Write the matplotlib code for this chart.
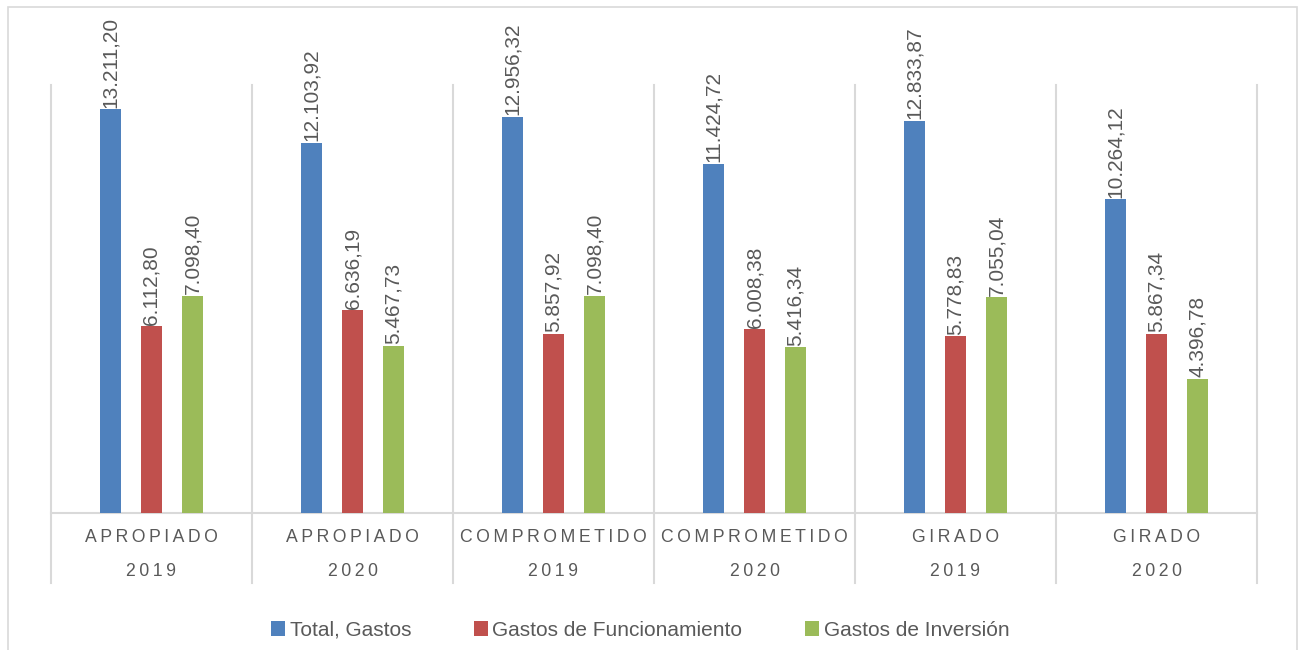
import matplotlib.pyplot as plt
import numpy as np
from matplotlib.patches import Rectangle

categorias = ['APROPIADO', 'APROPIADO', 'COMPROMETIDO', 'COMPROMETIDO', 'GIRADO', 'GIRADO']
anios = ['2019', '2020', '2019', '2020', '2019', '2020']
total_gastos = [13211.20, 12103.92, 12956.32, 11424.72, 12833.87, 10264.12]
gastos_funcionamiento = [6112.80, 6636.19, 5857.92, 6008.38, 5778.83, 5867.34]
gastos_inversion = [7098.40, 5467.73, 7098.40, 5416.34, 7055.04, 4396.78]
series_nombres = ['Total, Gastos', 'Gastos de Funcionamiento', 'Gastos de Inversión']
colores = ['#4F81BD', '#C0504D', '#9BBB59']

gris = '#595959'
linea = '#D9D9D9'

def fmt(v):
    s = f'{v:,.2f}'
    return s.replace(',', 'X').replace('.', ',').replace('X', '.')

def espaciado(t):
    return '\u2009'.join(t)

fig = plt.figure(figsize=(13, 6.5), dpi=100)
fig.patches.append(Rectangle((8/1300, -0.1), (1297-8)/1300, 1.1 - 7/650, transform=fig.transFigure,
                             fill=False, edgecolor=linea, linewidth=1.2))
ax = fig.add_axes([51/1300, (650-513)/650, (1257-51)/1300, (513-85)/650])

x = np.arange(len(categorias))
off = 0.204
w = 0.109
series = [total_gastos, gastos_funcionamiento, gastos_inversion]
for k, (vals, col, nom) in enumerate(zip(series, colores, series_nombres)):
    xs = x + (k-1)*off
    ax.bar(xs, vals, width=w, color=col, label=nom, zorder=3)
    for xi, v in zip(xs, vals):
        ax.text(xi, v + 50, fmt(v), rotation=90, ha='center', va='bottom',
                fontsize=15, color=gris, family=['Liberation Sans', 'DejaVu Sans'])

ax.set_xlim(-0.5, len(categorias)-0.5)
ax.set_ylim(0, 14000)
for s in ['top', 'left', 'right']:
    ax.spines[s].set_visible(False)
ax.spines['bottom'].set_color(linea)
ax.spines['bottom'].set_linewidth(1.5)
ax.set_xticks([])
ax.set_yticks([])

ext = (583-513)/428
for g in np.arange(-0.5, len(categorias), 1.0):
    ax.axvline(g, ymin=-ext, ymax=1, color=linea, linewidth=1.5, clip_on=False, zorder=1)

tr = ax.get_xaxis_transform()
for i, (c, a) in enumerate(zip(categorias, anios)):
    ax.text(i, -(537-513)/428, espaciado(c), transform=tr, ha='center', va='center',
            fontsize=12.7, color=gris, family=['Liberation Sans', 'DejaVu Sans'])
    ax.text(i, -(572-513)/428, espaciado(a), transform=tr, ha='center', va='center',
            fontsize=12.7, color=gris, family=['Liberation Sans', 'DejaVu Sans'])

leg = fig.legend(loc='center', bbox_to_anchor=(640/1300, 1-630/650), ncol=3, frameon=False,
                 handlelength=0.7, handleheight=0.7, columnspacing=3.0, handletextpad=0.2,
                 prop={'family': ['Liberation Sans'], 'size': 15})
for t in leg.get_texts():
    t.set_color(gris)

plt.savefig('out.png', format='png')
